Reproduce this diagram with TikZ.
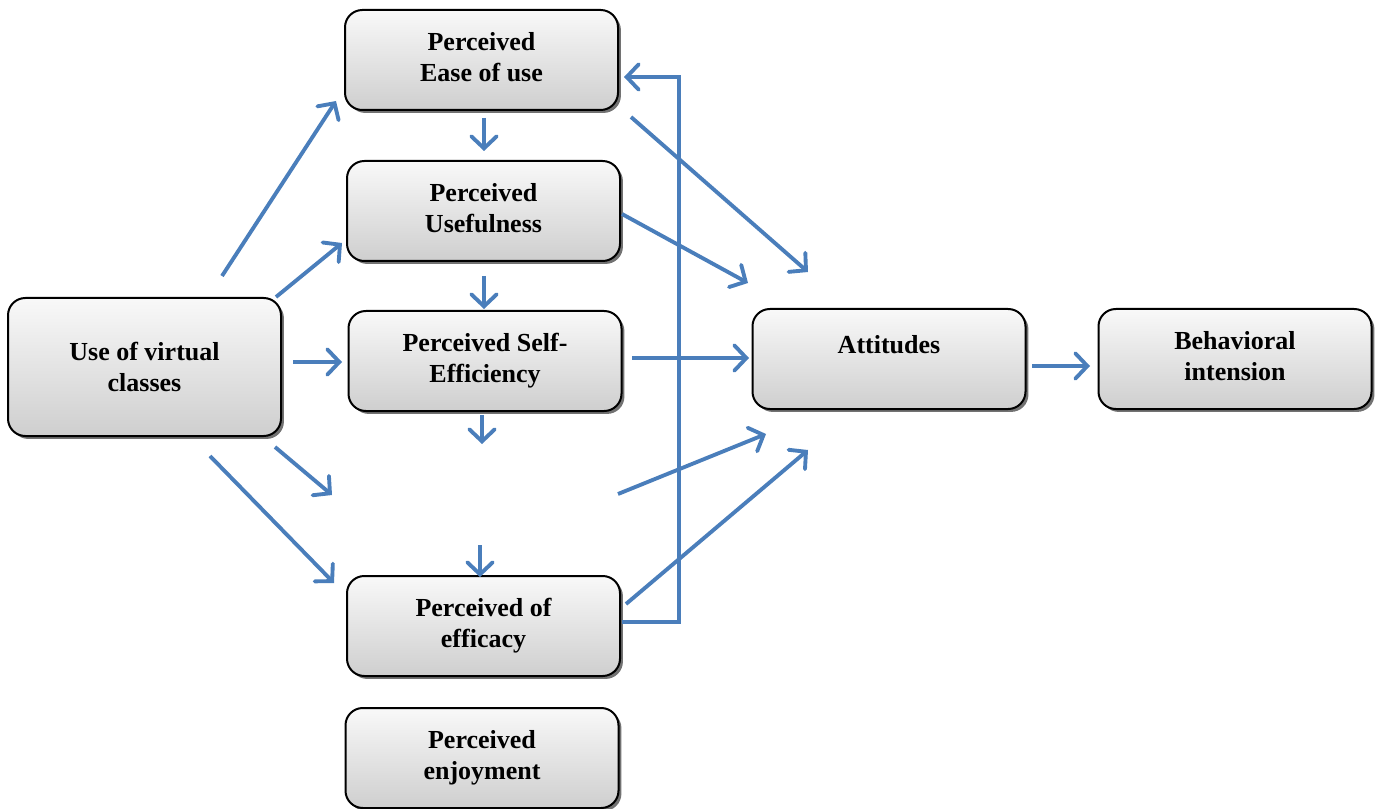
\documentclass[tikz,border=0pt]{standalone}
\usepackage{fontspec}
\setmainfont{Liberation Serif}
\usetikzlibrary{arrows.meta,shadows}
\definecolor{arrowblue}{HTML}{4A7EBB}
\begin{document}
\begin{tikzpicture}[x=0.75pt,y=-0.75pt,
  box/.style={draw=black, line width=1.5pt, rounded corners=13pt,
    top color=gray!5, bottom color=gray!38,
    minimum width=204.75pt, minimum height=75pt, inner sep=0pt,
    align=center, font=\fontsize{19.5}{23.3}\selectfont\bfseries,
    drop shadow={shadow xshift=2.2pt, shadow yshift=-2.2pt, fill=black!65, opacity=0.85}},
  conn/.style={draw=arrowblue, line width=2.9pt,
    -{Straight Barb[length=9pt,width=19pt,line cap=round]}}]
\useasboundingbox (0,0) rectangle (1375,809);

\node[box] (peu) at (481.5,60) {\strut Perceived\\Ease of use\strut};
\node[box] (pu) at (483.5,211) {\strut Perceived\\Usefulness\strut};
\node[box] (pse) at (485,361) {\strut Perceived Self-\\Efficiency\strut};
\node[box] (poe) at (483.5,626) {\strut Perceived of\\efficacy\strut};
\node[box] (pe) at (482,758) {\strut Perceived\\enjoyment\strut};
\node[box, minimum height=103.5pt] (uvc) at (144.5,367) {Use of virtual\\classes};
\node[box] (att) at (889,359) {Attitudes\\[-9pt]\strut};
\node[box] (bi) at (1235,359) {\strut Behavioral\\intension\strut};

% connector end points
\coordinate (a1s) at (222,276);  \coordinate (a1e) at (336,101);
\coordinate (a2s) at (276,297);  \coordinate (a2e) at (342,243);
\coordinate (a3s) at (293,362);  \coordinate (a3e) at (342,362);
\coordinate (a4s) at (275,447);  \coordinate (a4e) at (332,495);
\coordinate (a5s) at (210,456);  \coordinate (a5e) at (334,583);
\coordinate (a6s) at (484,118);  \coordinate (a6e) at (484,151);
\coordinate (a7s) at (484,276);  \coordinate (a7e) at (484,309);
\coordinate (a8s) at (482,415);  \coordinate (a8e) at (482,444);
\coordinate (a9s) at (480,545);  \coordinate (a9e) at (480,577);
\coordinate (a10s) at (631,117); \coordinate (a10e) at (808,272);
\coordinate (a11s) at (622,214); \coordinate (a11e) at (748,283);
\coordinate (a12s) at (632,358); \coordinate (a12e) at (749,358);
\coordinate (a13s) at (618,494); \coordinate (a13e) at (766,434);
\coordinate (a14s) at (626,604); \coordinate (a14e) at (808,450);
\coordinate (fbs) at (622,622);  \coordinate (fbc1) at (679,622);
\coordinate (fbc2) at (679,77);  \coordinate (fbe) at (624,77);
\coordinate (a16s) at (1032,366); \coordinate (a16e) at (1090,366);

\draw[conn] (a1s) -- (a1e);
\draw[conn] (a2s) -- (a2e);
\draw[conn] (a3s) -- (a3e);
\draw[conn] (a4s) -- (a4e);
\draw[conn] (a5s) -- (a5e);
\draw[conn] (a6s) -- (a6e);
\draw[conn] (a7s) -- (a7e);
\draw[conn] (a8s) -- (a8e);
\draw[conn] (a9s) -- (a9e);
\draw[conn] (a10s) -- (a10e);
\draw[conn] (a11s) -- (a11e);
\draw[conn] (a12s) -- (a12e);
\draw[conn] (a13s) -- (a13e);
\draw[conn] (a14s) -- (a14e);
\draw[conn] (fbs) -- (fbc1) -- (fbc2) -- (fbe);
\draw[conn] (a16s) -- (a16e);
\end{tikzpicture}
\end{document}
